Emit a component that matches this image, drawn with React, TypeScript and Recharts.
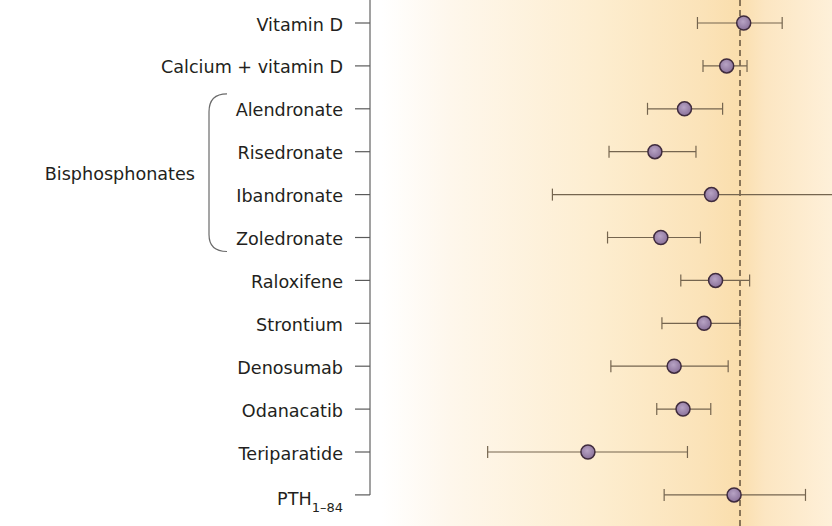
import { ScatterChart, Scatter, XAxis, YAxis, ErrorBar, ReferenceLine } from 'recharts';

// rows top to bottom
const drugs = [
  'Vitamin D',
  'Calcium + vitamin D',
  'Alendronate',
  'Risedronate',
  'Ibandronate',
  'Zoledronate',
  'Raloxifene',
  'Strontium',
  'Denosumab',
  'Odanacatib',
  'Teriparatide',
  'PTH',
];
const subscripts = ['', '', '', '', '', '', '', '', '', '', '', '1–84'];

// relative risk, 95% CI
const estimate = [1.01, 0.964, 0.85, 0.77, 0.923, 0.786, 0.934, 0.903, 0.822, 0.846, 0.589, 0.984];
const lower = [0.885, 0.9, 0.75, 0.646, 0.493, 0.642, 0.84, 0.789, 0.651, 0.775, 0.318, 0.795];
const upper = [1.114, 1.019, 0.953, 0.881, 1.4, 0.893, 1.026, 1.0, 0.968, 0.921, 0.858, 1.177];

const groupName = 'Bisphosphonates';
const groupFirst = 2;
const groupLast = 5;

const W = 900;
const H = 526;
const AXIS_W = 370;
const ROW_PX = 42.9;
const FIRST_ROW_PX = 23;
const yDomain: [number, number] = [-FIRST_ROW_PX / ROW_PX, (H - FIRST_ROW_PX) / ROW_PX];
const xDomain: [number, number] = [0, (W - AXIS_W) / 370];

const rows = drugs.map((name, i) => ({
  name,
  y: i,
  x: estimate[i],
  ci: [estimate[i] - lower[i], upper[i] - estimate[i]],
}));

const FONT = '"DejaVu Sans", sans-serif';
const FS = 17.6;

function DrugTick(props: any) {
  const { x, y, payload } = props;
  const i = payload.value as number;
  const sub = subscripts[i];
  const span = (groupLast - groupFirst) * ROW_PX;
  return (
    <g>
      {sub ? (
        <text x={x} y={y} dy={10} textAnchor="end" fontFamily={FONT} fontSize={FS} fill="#231f20">
          {drugs[i]}
          <tspan fontSize={13} dy={7}>{sub}</tspan>
        </text>
      ) : (
        <text x={x} y={y} dy={7.5} textAnchor="end" fontFamily={FONT} fontSize={FS} fill="#231f20">
          {drugs[i]}
        </text>
      )}
      {i === groupFirst && (
        <g>
          <path
            d={`M ${x - 116} ${y - 15} Q ${x - 134} ${y - 15} ${x - 134} ${y + 3} L ${x - 134} ${y + span - 3} Q ${x - 134} ${y + span + 14} ${x - 116} ${y + span + 14}`}
            fill="none"
            stroke="#6a6a6a"
            strokeWidth={1.2}
          />
          <text x={x - 148} y={y + span / 2} dy={7} textAnchor="end" fontFamily={FONT} fontSize={FS} fill="#231f20">
            {groupName}
          </text>
        </g>
      )}
    </g>
  );
}

function Dot(props: any) {
  const { cx, cy } = props;
  return <circle cx={cx} cy={cy} r={7} fill="url(#dotGrad)" stroke="#3f2b3d" strokeWidth={1.5} />;
}

export default function App() {
  return (
    <div
      style={{
        position: 'fixed',
        left: 0,
        top: 0,
        width: 832,
        height: H,
        overflow: 'hidden',
        background:
          'linear-gradient(to right, #ffffff 0px, #ffffff 382px, #fef7ec 450px, #fdedcf 600px, #fbe3b9 700px, #fadead 738px, #fce6c2 765px, #fef0d9 832px)',
      }}
    >
      <ScatterChart width={W} height={H} margin={{ top: 0, right: 0, bottom: 0, left: 0 }}>
        <defs>
          <radialGradient id="dotGrad" cx="45%" cy="40%" r="60%">
            <stop offset="0%" stopColor="#b7a3c4" />
            <stop offset="100%" stopColor="#8a719a" />
          </radialGradient>
        </defs>
        <XAxis type="number" dataKey="x" domain={xDomain} hide />
        <YAxis
          type="number"
          dataKey="y"
          domain={yDomain}
          reversed
          ticks={drugs.map((_, i) => i)}
          width={AXIS_W}
          axisLine={false}
          tickLine={{ stroke: '#5a5a5a', strokeWidth: 1.2 }}
          tickSize={15}
          tickMargin={12}
          tick={<DrugTick />}
        />
        <ReferenceLine
          segment={[
            { x: 0, y: yDomain[0] },
            { x: 0, y: drugs.length - 1 },
          ]}
          stroke="#6f6f6f"
          strokeWidth={1.3}
          ifOverflow="visible"
        />
        <ReferenceLine x={1} stroke="#3f3020" strokeWidth={1.2} strokeDasharray="6 4" ifOverflow="visible" />
        <Scatter data={rows} shape={<Dot />} isAnimationActive={false}>
          <ErrorBar dataKey="ci" direction="x" width={6} stroke="#75654f" strokeWidth={1.2} isAnimationActive={false} />
        </Scatter>
      </ScatterChart>
    </div>
  );
}
